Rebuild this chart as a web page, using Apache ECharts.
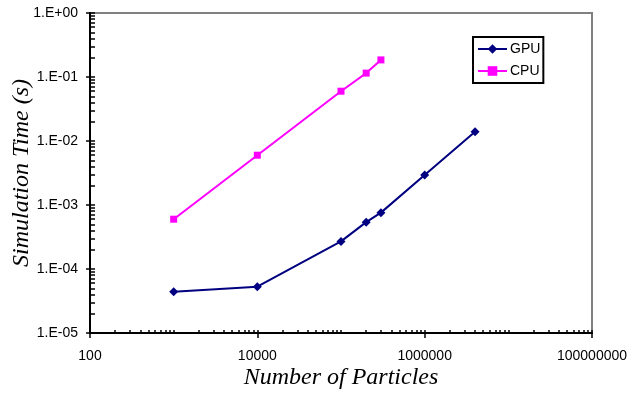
<!DOCTYPE html>
<html>
<head>
<meta charset="utf-8">
<script src="https://cdn.jsdelivr.net/npm/echarts@6/dist/echarts.min.js"></script>
<style>html,body{margin:0;padding:0;background:#fff}#c{width:627px;height:394px}</style>
</head>
<body>
<div id="c"></div>
<script>
// Data
const gpuX = [1000, 10000, 100000, 200000, 300000, 1000000, 4000000];
const gpuY = [4.4e-5, 5.3e-5, 2.7e-4, 5.4e-4, 7.6e-4, 2.95e-3, 1.4e-2];
const cpuX = [1000, 10000, 100000, 200000, 300000];
const cpuY = [6.0e-4, 6.0e-3, 6.0e-2, 1.15e-1, 1.85e-1];

// Axis ticks
const majorX = [100, 10000, 1000000, 100000000];
const majorXLabels = ['100', '10000', '1000000', '100000000'];
const majorY = [1e-5, 1e-4, 1e-3, 1e-2, 1e-1, 1];
const majorYLabels = ['1.E-05', '1.E-04', '1.E-03', '1.E-02', '1.E-01', '1.E+00'];
const decadesX = [100, 1000, 10000, 100000, 1000000, 10000000];
const decadesY = [1e-5, 1e-4, 1e-3, 1e-2, 1e-1];
const mantissas = [1, 2, 3, 4, 5, 6, 7, 8, 9];

const minorX = [];
decadesX.forEach(d => mantissas.forEach(m => minorX.push(+(d * m).toPrecision(6))));
minorX.push(1e8);
const minorY = [];
decadesY.forEach(d => mantissas.forEach(m => minorY.push(+(d * m).toPrecision(6))));
minorY.push(1);

const sans = 'Liberation Sans, Arial, sans-serif';
const serif = 'Liberation Serif, Times New Roman, serif';

function nearestIdx(arr, v) {
  let best = 0, bd = Infinity;
  arr.forEach((a, i) => { const d = Math.abs(Math.log10(a) - Math.log10(v)); if (d < bd) { bd = d; best = i; } });
  return best;
}

const chart = echarts.init(document.getElementById('c'), null, {renderer: 'canvas'});
chart.setOption({
  animation: false,
  backgroundColor: '#fff',
  grid: {left: 90, top: 13, right: 35, bottom: 61, outerBoundsMode: 'none', containLabel: false,
         show: true, borderColor: '#808080', borderWidth: 2, backgroundColor: 'transparent'},
  legend: {
    orient: 'vertical', left: 473, top: 37,
    padding: [5, 3, 5, 4], itemWidth: 29, itemHeight: 12, itemGap: 8,
    borderColor: '#000', borderWidth: 2, backgroundColor: '#fff',
    textStyle: {fontFamily: sans, fontSize: 14, color: '#000', padding: [0, 0, 0, -2]},
    data: ['GPU', 'CPU']
  },
  xAxis: [{
    type: 'log', logBase: 10, min: 100, max: 1e8, position: 'bottom',
    axisLine: {lineStyle: {color: '#000', width: 2}},
    axisTick: {customValues: majorX, length: 5, lineStyle: {color: '#000', width: 1.5}},
    axisLabel: {customValues: majorX, margin: 16, fontSize: 14, color: '#000', fontFamily: sans,
                formatter: v => majorXLabels[nearestIdx(majorX, v)]},
    splitLine: {show: false}, minorTick: {show: false}, minorSplitLine: {show: false},
    name: 'Number of Particles', nameLocation: 'middle', nameGap: 33, nameMoveOverlap: false,
    nameTextStyle: {fontFamily: serif, fontStyle: 'italic', fontSize: 24, color: '#000'}
  }, {
    type: 'log', logBase: 10, min: 100, max: 1e8, position: 'bottom',
    axisLine: {show: false},
    axisTick: {customValues: minorX, inside: true, length: 3, lineStyle: {color: '#000', width: 1.5}},
    axisLabel: {show: false},
    splitLine: {show: false}
  }],
  yAxis: [{
    type: 'log', logBase: 10, min: 1e-5, max: 1, position: 'left',
    axisLine: {lineStyle: {color: '#000', width: 2}},
    axisTick: {customValues: majorY, length: 4, lineStyle: {color: '#000', width: 1.5}},
    axisLabel: {customValues: majorY, margin: 12, fontSize: 14, color: '#000', fontFamily: sans,
                formatter: v => majorYLabels[nearestIdx(majorY, v)]},
    splitLine: {show: false}, minorTick: {show: false}, minorSplitLine: {show: false},
    name: 'Simulation Time (s)', nameLocation: 'middle', nameGap: 56, nameMoveOverlap: false,
    nameTextStyle: {fontFamily: serif, fontStyle: 'italic', fontSize: 24, color: '#000'}
  }, {
    type: 'log', logBase: 10, min: 1e-5, max: 1, position: 'left',
    axisLine: {show: false},
    axisTick: {customValues: minorY, inside: true, length: 5, lineStyle: {color: '#000', width: 1.5}},
    axisLabel: {show: false},
    splitLine: {show: false}
  }],
  series: [{
    name: 'GPU', type: 'line', xAxisIndex: 0, yAxisIndex: 0,
    data: gpuX.map((x, i) => [x, gpuY[i]]),
    symbol: 'diamond', symbolSize: 9, showAllSymbol: true,
    lineStyle: {color: '#000080', width: 2},
    itemStyle: {color: '#000080'}
  }, {
    name: 'CPU', type: 'line', xAxisIndex: 0, yAxisIndex: 0,
    data: cpuX.map((x, i) => [x, cpuY[i]]),
    symbol: 'rect', symbolSize: 7, showAllSymbol: true,
    lineStyle: {color: '#FF00FF', width: 2},
    itemStyle: {color: '#FF00FF'}
  }]
});
</script>
</body>
</html>
